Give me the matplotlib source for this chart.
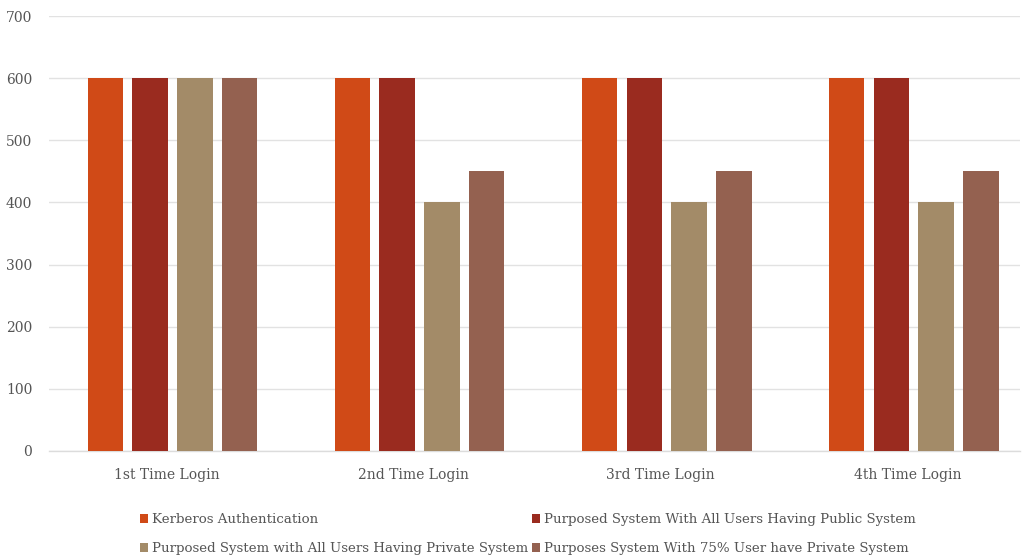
import matplotlib.pyplot as plt
import numpy as np

plt.rcParams['font.family'] = ['DejaVu Serif']

categories = ["1st Time Login", "2nd Time Login", "3rd Time Login", "4th Time Login"]
series_names = [
    "Kerberos Authentication",
    "Purposed System With All Users Having Public System",
    "Purposed System with All Users Having Private System",
    "Purposes System With 75% User have Private System",
]
kerberos = [600, 600, 600, 600]
public_sys = [600, 600, 600, 600]
private_sys = [600, 400, 400, 400]
private_75 = [600, 450, 450, 450]
values = [kerberos, public_sys, private_sys, private_75]
colors = ["#D04A17", "#9A2B1F", "#A38B68", "#946150"]

fig = plt.figure(figsize=(10.26, 5.6), dpi=100)
ax = fig.add_axes([49 / 1026, 1 - 451 / 560, (1020 - 49) / 1026, (451 - 16) / 560])

x = np.arange(len(categories))
width = 0.144
step = 0.181
for i, (vals, name, c) in enumerate(zip(values, series_names, colors)):
    ax.bar(x + (i - 1.5) * step, vals, width, color=c, label=name, zorder=3)

ax.set_xlim(-0.5, 3.43)
ax.set_ylim(0, 700)
ax.set_yticks(range(0, 701, 100))
ax.set_xticks(x - 0.025)
ax.set_xticklabels(categories)
ax.grid(axis="y", color="#e2e2e2", linewidth=1)
ax.axhline(0, color="#dcdcdc", linewidth=1, clip_on=False, zorder=2)
for s in ax.spines.values():
    s.set_visible(False)
ax.tick_params(length=0, labelsize=10, colors="#555555")
ax.tick_params(axis="x", pad=12)
ax.tick_params(axis="y", pad=12)

# legend filled row by row, like the original
handles, labels = ax.get_legend_handles_labels()
order = [0, 2, 1, 3]
fig.legend([handles[k] for k in order], [labels[k] for k in order], ncol=2,
           loc="upper left", bbox_to_anchor=(128 / 1026, 1 - 501 / 560),
           frameon=False, fontsize=9.6, handlelength=0.6, handleheight=0.7,
           handletextpad=0.3, columnspacing=0.3, labelspacing=1.2,
           labelcolor="#555555")

fig.savefig("out.png", dpi=100)
